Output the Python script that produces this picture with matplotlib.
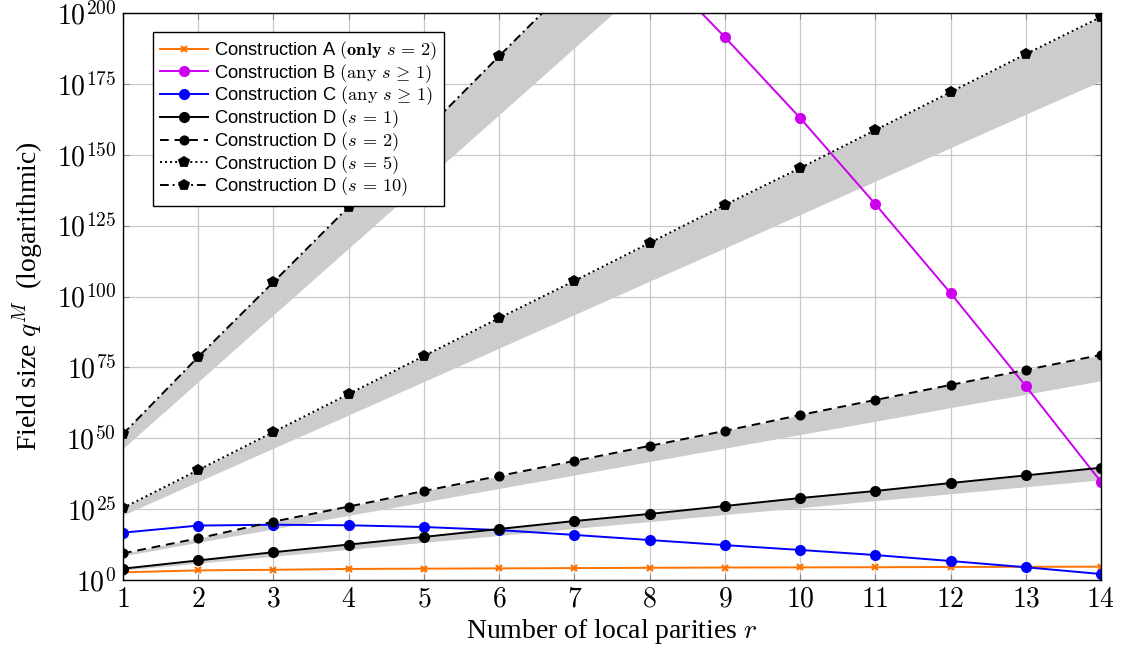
import matplotlib
matplotlib.use("Agg")
import matplotlib.pyplot as plt
import numpy as np
from matplotlib.ticker import NullLocator

plt.rcParams['mathtext.fontset'] = 'cm'
plt.rcParams['font.family'] = ['Liberation Sans', 'DejaVu Sans']

# ---- data (exponents of 10) ----
r = [1, 2, 3, 4, 5, 6, 7, 8, 9, 10, 11, 12, 13, 14]
A_exp = [2.7, 3.4, 3.6, 3.9, 4.0, 4.1, 4.2, 4.3, 4.4, 4.45, 4.5, 4.6, 4.65, 4.7]
B_r = [8, 9, 10, 11, 12, 13, 14]
B_exp = [218.9, 191.5, 163.0, 132.6, 101.2, 68.4, 34.6]
C_exp = [16.7, 19.2, 19.5, 19.3, 18.7, 17.6, 15.9, 14.1, 12.3, 10.6, 8.8, 6.7, 4.5, 2.1]
D1_exp = [4.0, 6.9, 9.8, 12.5, 15.2, 18.0, 20.8, 23.3, 26.1, 28.9, 31.4, 34.2, 36.9, 39.6]
D2_exp = [9.4, 14.7, 20.6, 25.9, 31.4, 36.7, 42.0, 47.3, 52.6, 58.2, 63.5, 68.8, 74.1, 79.4]
D5_exp = [25.4, 38.8, 52.2, 65.6, 79.0, 92.4, 105.5, 118.9, 132.3, 145.3, 158.7, 172.1, 185.5, 198.6]
D10_r = [1, 2, 3, 4, 5, 6, 7, 8, 9, 10]
D10_exp = [51.5, 78.7, 105.1, 131.6, 158.0, 184.8, 211.3, 237.8, 264.3, 290.8]
# lower edges of the grey bands
D1_low = [3.5, 5.9, 8.4, 10.8, 13.3, 15.7, 18.2, 20.6, 23.1, 25.5, 28.0, 30.4, 32.9, 35.3]
D2_low = [8.5, 13.3, 18.0, 22.8, 27.5, 32.3, 37.0, 41.8, 46.5, 51.3, 56.0, 60.8, 65.5, 70.3]
D5_low = [22.9, 34.7, 46.5, 58.2, 70.0, 81.8, 93.6, 105.4, 117.1, 128.9, 140.7, 152.5, 164.3, 176.0]
D10_low = [46.1, 69.6, 93.2, 116.7, 140.3, 163.8, 187.4, 210.9, 234.5, 258.0]

ytick_exp = [0, 25, 50, 75, 100, 125, 150, 175, 200]

labels = [
    r'Construction A $(\mathbf{only}\ s\,=\,2)$',
    r'Construction B $(\mathrm{any}\ s\,\geq\,1)$',
    r'Construction C $(\mathrm{any}\ s\,\geq\,1)$',
    r'Construction D $(s\,=\,1)$',
    r'Construction D $(s\,=\,2)$',
    r'Construction D $(s\,=\,5)$',
    r'Construction D $(s\,=\,10)$',
]

def p10(e):
    return np.power(10.0, np.asarray(e, dtype=float))

fig = plt.figure(figsize=(11.22, 6.52), dpi=100)
ax = fig.add_axes([123/1122, 1-580/652, 978/1122, 567/652])
ax.set_yscale('log')

band = '#cccccc'
ax.fill_between(r, p10(D1_low), p10(D1_exp), color=band, lw=0, zorder=1)
ax.fill_between(r, p10(D2_low), p10(D2_exp), color=band, lw=0, zorder=1)
ax.fill_between(r, p10(D5_low), p10(D5_exp), color=band, lw=0, zorder=1)
ax.fill_between(D10_r, p10(D10_low), p10(D10_exp), color=band, lw=0, zorder=1)

lw = 1.4
ax.plot(r, p10(A_exp), color='#ff7300', marker='x', ms=4.5, mew=1.6, lw=lw, label=labels[0], zorder=3)
ax.plot(B_r, p10(B_exp), color='#cc00ee', marker='o', ms=7, lw=lw, label=labels[1], zorder=3)
ax.plot(r, p10(C_exp), color='#0000ff', marker='o', ms=7, lw=lw, label=labels[2], zorder=3)
ax.plot(r, p10(D1_exp), color='black', marker='o', ms=7, lw=lw, label=labels[3], zorder=3)
ax.plot(r, p10(D2_exp), color='black', marker='o', ms=6.3, lw=lw, ls=(0, (4.5, 3)), label=labels[4], zorder=3)
ax.plot(r, p10(D5_exp), color='black', marker='p', ms=7.5, mew=1.3, lw=lw, ls=(0, (1, 1.6)), label=labels[5], zorder=3)
ax.plot(D10_r, p10(D10_exp), color='black', marker='p', ms=7.5, mew=1.3, lw=lw, ls=(0, (4.5, 2, 1, 2)), label=labels[6], zorder=3)

ax.set_xlim(1, 14)
ax.set_ylim(1e0, 1e200)
ax.set_xticks(r)
ax.set_xticklabels([r'$%d$' % v for v in r])
ax.set_yticks(p10(ytick_exp))
ax.set_yticklabels([r'$10^{%d}$' % e for e in ytick_exp])
ax.yaxis.set_minor_locator(NullLocator())
ax.tick_params(axis='both', which='major', direction='in', length=4, width=0.8,
               color='#888888', top=True, right=True, labelsize=20, pad=5)
ax.grid(True, color='#c8c8c8', lw=0.9)
ax.set_axisbelow(True)
for s in ax.spines.values():
    s.set_linewidth(1.0)
    s.set_zorder(5)

ax.set_xlabel(r'Number of local parities $r$', fontsize=20, family='Liberation Serif', labelpad=3)
ax.set_ylabel(r'Field size $q^M$  (logarithmic)', fontsize=20, family='Liberation Serif', labelpad=8)

leg = ax.legend(loc='upper left', bbox_to_anchor=(30/978, (580-32)/567), borderaxespad=0,
                fontsize=13.2, handlelength=2.6, handletextpad=0.3, labelspacing=0.0,
                borderpad=0.4, fancybox=False, framealpha=1, edgecolor='black')
leg.get_frame().set_linewidth(1.0)
leg.set_zorder(10)

fig.savefig('out.png', dpi=100)
